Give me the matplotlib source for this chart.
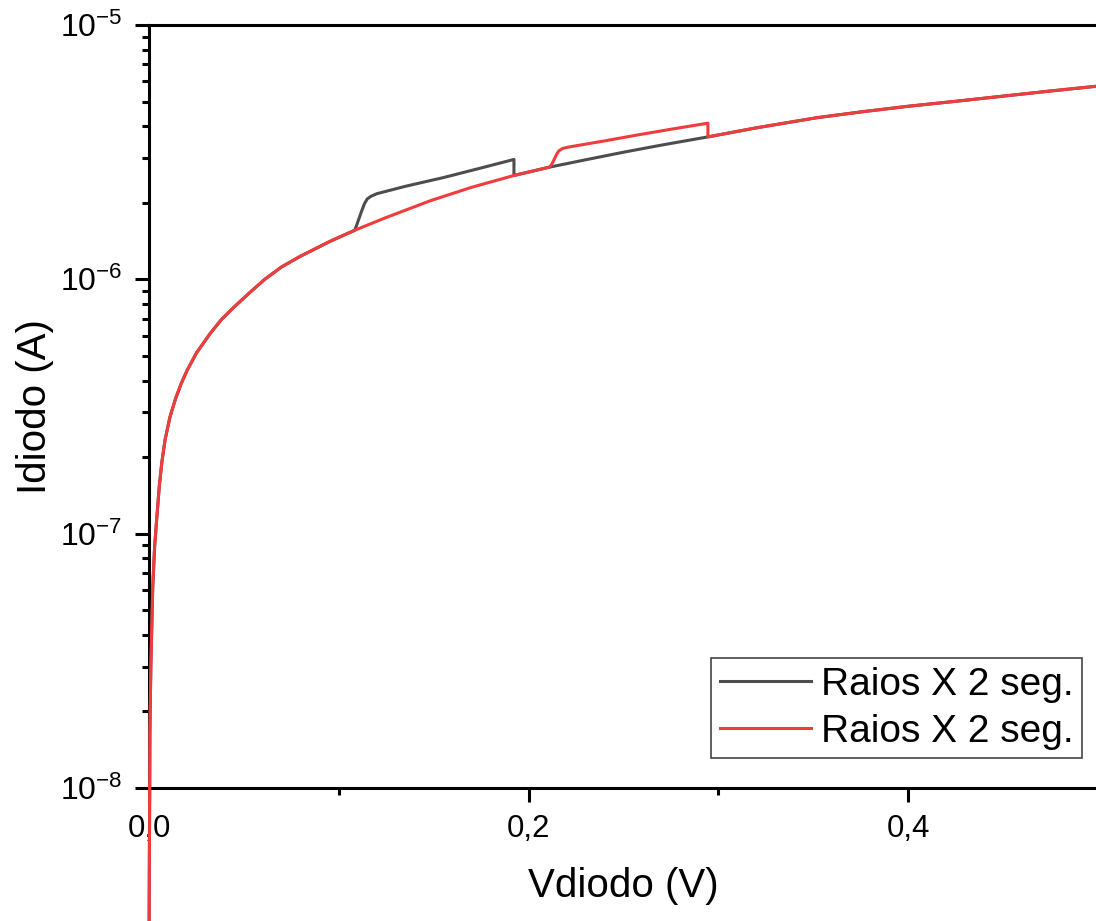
"""
Curva I-V del diodo (escala log) con dos medidas de rayos X
"""

import numpy as np
from matplotlib import pyplot as plt
from matplotlib.ticker import LogLocator, MultipleLocator, FuncFormatter, NullFormatter

plt.rcParams['font.family'] = ['Liberation Sans', 'DejaVu Sans']
plt.rcParams['mathtext.fontset'] = 'custom'
plt.rcParams['mathtext.rm'] = 'Liberation Sans'
plt.rcParams['mathtext.it'] = 'Liberation Sans'

# Curva base (comun a las dos medidas)
v_base = [0.0, 0.0005, 0.001, 0.002, 0.003, 0.0042, 0.0055, 0.0068, 0.0085, 0.0111,
          0.014, 0.017, 0.020, 0.025, 0.0321, 0.038, 0.045, 0.053, 0.061, 0.070,
          0.0796, 0.0954, 0.1085, 0.125, 0.1485, 0.170, 0.1923, 0.211, 0.23, 0.25,
          0.27, 0.2945, 0.32, 0.352, 0.375, 0.40, 0.425, 0.45, 0.475, 0.50]
i_base = [2.0e-9, 1.66e-8, 3.02e-8, 6.17e-8, 8.91e-8, 1.17e-7, 1.55e-7, 1.91e-7, 2.34e-7, 2.88e-7,
          3.39e-7, 3.89e-7, 4.37e-7, 5.13e-7, 6.10e-7, 6.92e-7, 7.80e-7, 8.85e-7, 1.00e-6, 1.12e-6,
          1.23e-6, 1.41e-6, 1.56e-6, 1.75e-6, 2.04e-6, 2.30e-6, 2.56e-6, 2.76e-6, 2.95e-6, 3.16e-6,
          3.37e-6, 3.63e-6, 3.94e-6, 4.32e-6, 4.55e-6, 4.79e-6, 5.01e-6, 5.25e-6, 5.50e-6, 5.75e-6]

# Salto de la primera medida (gris)
v_salto1 = [0.1085, 0.1105, 0.1120, 0.1135, 0.1150, 0.1170, 0.1200, 0.135, 0.155, 0.175,
            0.1923, 0.1923]
i_salto1 = [1.56e-6, 1.72e-6, 1.85e-6, 1.98e-6, 2.07e-6, 2.12e-6, 2.17e-6, 2.32e-6, 2.51e-6, 2.74e-6,
            2.96e-6, 2.56e-6]

# Salto de la segunda medida (roja)
v_salto2 = [0.211, 0.2122, 0.2135, 0.2148, 0.216, 0.218, 0.221, 0.24, 0.257, 0.275,
            0.2945, 0.2945]
i_salto2 = [2.76e-6, 2.83e-6, 2.96e-6, 3.10e-6, 3.20e-6, 3.27e-6, 3.31e-6, 3.50e-6, 3.69e-6, 3.89e-6,
            4.11e-6, 3.63e-6]

etiquetas = ['Raios X 2 seg.', 'Raios X 2 seg.']
colores = ['#4d4d4d', '#f03c3c']


def armar(v_s, i_s):
    # curva base fuera del salto + puntos del salto
    vb = np.array(v_base)
    ib = np.array(i_base)
    antes = vb < v_s[0]
    despues = vb > v_s[-1]
    v = np.concatenate([vb[antes], v_s, vb[despues]])
    i = np.concatenate([ib[antes], i_s, ib[despues]])
    return v, i


fig = plt.figure(figsize=(10.96, 9.21), dpi=100)
ax = fig.add_axes([0.1359, 0.1444, 0.8659, 0.8285])

v1, i1 = armar(v_salto1, i_salto1)
v2, i2 = armar(v_salto2, i_salto2)
ax.plot(v1, i1, color=colores[0], lw=2.2, label=etiquetas[0], clip_on=False, zorder=3)
ax.plot(v2, i2, color=colores[1], lw=2.2, label=etiquetas[1], clip_on=False, zorder=4)

ax.set_yscale('log')
ax.set_xlim(0, 0.5)
ax.set_ylim(1e-8, 1e-5)

ax.xaxis.set_major_locator(MultipleLocator(0.2))
ax.xaxis.set_minor_locator(MultipleLocator(0.1))
ax.xaxis.set_major_formatter(FuncFormatter(lambda x, p: ('%.1f' % x).replace('.', ',')))
ax.yaxis.set_major_locator(LogLocator(base=10, numticks=10))
ax.yaxis.set_minor_locator(LogLocator(base=10, subs=np.arange(2, 10), numticks=10))
ax.yaxis.set_minor_formatter(NullFormatter())
ax.yaxis.set_major_formatter(FuncFormatter(lambda y, p: r'$10^{%d}$' % int(round(np.log10(y)))))

for s in ['left', 'bottom', 'top']:
    ax.spines[s].set_linewidth(2.2)
ax.spines['right'].set_visible(False)

ax.tick_params(which='major', direction='out', length=10, width=2.2, pad=8)
ax.tick_params(axis='x', which='major', labelsize=22.5, pad=9)
ax.tick_params(axis='y', which='major', labelsize=23, pad=9)
ax.tick_params(which='minor', direction='out', length=5, width=2.2)
ax.tick_params(top=False, right=False, which='both')

ax.set_xlabel('Vdiodo (V)', fontsize=29)
ax.set_ylabel('Idiodo (A)', fontsize=29)
ax.xaxis.label.set_verticalalignment('center')
ax.yaxis.label.set_verticalalignment('center')
ax.xaxis.set_label_coords(0.5, -0.128)
ax.yaxis.set_label_coords(-0.120, 0.5)

leg = ax.legend(loc='lower right', bbox_to_anchor=(0.983, 0.039), borderaxespad=0,
                fontsize=28, fancybox=False, edgecolor='#444444', framealpha=1,
                handlelength=2.35, handletextpad=0.25, borderpad=0.22, labelspacing=0.28)
leg.get_frame().set_linewidth(1.2)

plt.savefig('out.png', dpi=100)
